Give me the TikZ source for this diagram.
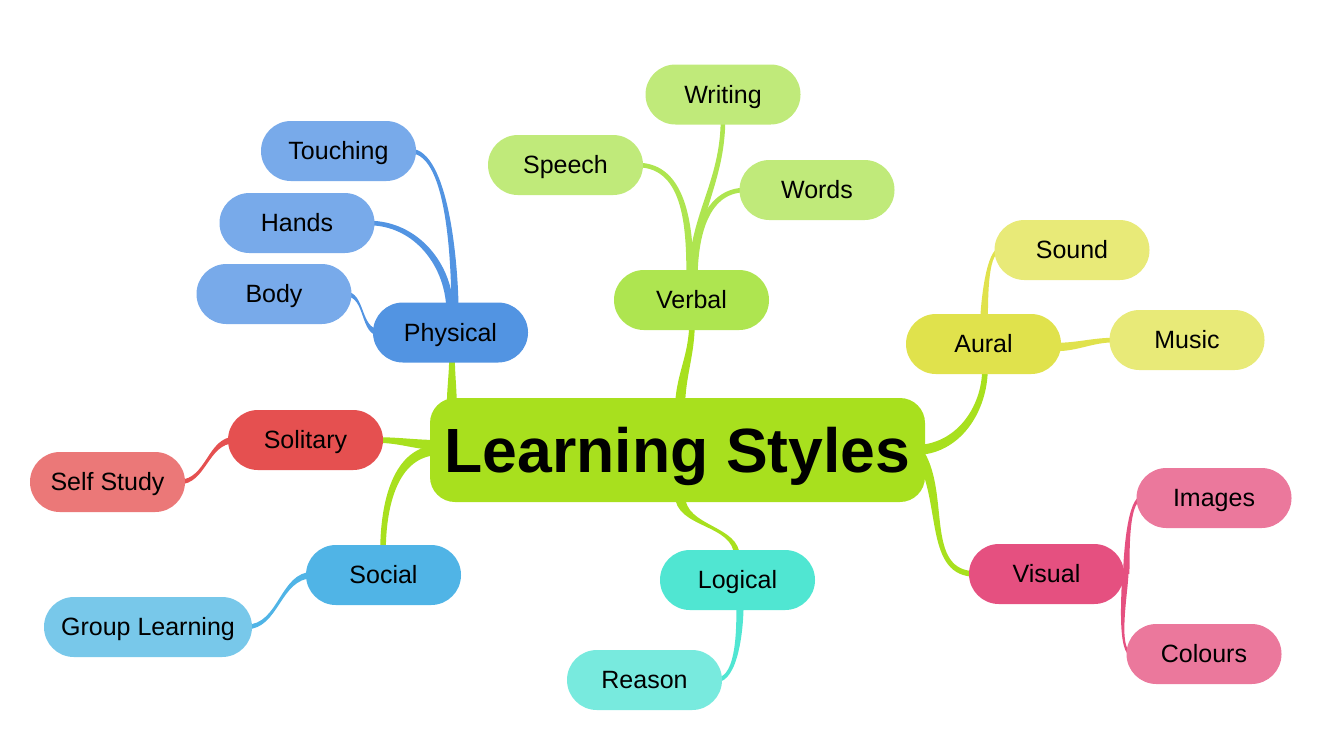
\documentclass[tikz,border=0pt]{standalone}
\usepackage{fontspec}
\setmainfont{Liberation Sans}
\usetikzlibrary{calc}
\pgfdeclarelayer{bg}
\pgfsetlayers{bg,main}
\definecolor{ccentral}{HTML}{A8E01E}
\definecolor{cphys}{HTML}{5294E2}
\definecolor{cphysc}{HTML}{78AAEA}
\definecolor{cverb}{HTML}{AEE550}
\definecolor{cverbc}{HTML}{C0EA7A}
\definecolor{caur}{HTML}{E0E24C}
\definecolor{caurc}{HTML}{E8EA78}
\definecolor{cvis}{HTML}{E55080}
\definecolor{cvisc}{HTML}{EB789C}
\definecolor{clog}{HTML}{50E6D2}
\definecolor{clogc}{HTML}{78EADE}
\definecolor{csol}{HTML}{E55050}
\definecolor{csolc}{HTML}{EB7878}
\definecolor{csoc}{HTML}{50B4E6}
\definecolor{csocc}{HTML}{78C8EA}
% tapered connector: #1 start, #2 out angle, #3 end, #4 in angle, #5 start half width, #6 end half width, #7 colour, #8 extra to-options
\newcommand\conn[8]{%
  \fill[#7] ($(#1)+(#2+90:#5)$) to[out=#2,in=#4,#8] ($(#3)+(#4-90:#6)$) -- ($(#3)+(#4+90:#6)$) to[out=#4,in=#2,#8] ($(#1)+(#2-90:#5)$) -- cycle;}
\tikzset{
  pill/.style={rectangle, rounded corners=29.9pt, minimum width=155pt, minimum height=60pt,
    inner sep=0pt, text height=17.8pt, text depth=0pt, text=black,
    font=\fontsize{25}{28}\selectfont},
  hub/.style={rectangle, rounded corners=25pt, minimum width=495pt, minimum height=104pt,
    inner sep=0pt, text height=45pt, text depth=0pt, text=black,
    font=\fontsize{62.5}{70}\selectfont\bfseries, fill=ccentral},
}
\begin{document}
\begin{tikzpicture}[x=1pt,y=1pt]
\useasboundingbox (0,0) rectangle (1340,-748);
% nodes
\node[hub] (central) at (677.5,-450) {Learning Styles};
\node[pill, fill=cphys] (phys) at (450.5,-332.5) {Physical};
\node[pill, fill=cphysc] (touch) at (338.5,-151) {Touching};
\node[pill, fill=cphysc] (hands) at (297,-223) {Hands};
\node[pill, fill=cphysc] (body) at (274,-294) {Body};
\node[pill, fill=cverb] (verbal) at (691.5,-300) {Verbal};
\node[pill, fill=cverbc] (speech) at (565.5,-165) {Speech};
\node[pill, fill=cverbc] (writing) at (723,-94.5) {Writing};
\node[pill, fill=cverbc] (words) at (817,-190) {Words};
\node[pill, fill=caur] (aural) at (983.5,-344) {Aural};
\node[pill, fill=caurc] (sound) at (1072,-250) {Sound};
\node[pill, fill=caurc] (music) at (1187,-340) {Music};
\node[pill, fill=cvis] (visual) at (1046.5,-574) {Visual};
\node[pill, fill=cvisc] (images) at (1214,-498) {Images};
\node[pill, fill=cvisc] (colours) at (1204,-654) {Colours};
\node[pill, fill=clog] (logical) at (737.5,-580) {Logical};
\node[pill, fill=clogc] (reason) at (644.5,-680) {Reason};
\node[pill, fill=csol] (solitary) at (305.5,-440) {Solitary};
\node[pill, fill=csolc] (selfst) at (107.5,-482) {Self Study};
\node[pill, fill=csoc] (social) at (383.5,-575) {Social};
\node[pill, fill=csocc, minimum width=208pt] (group) at (148,-627) {Group Learning};
% connectors
\begin{pgfonlayer}{bg}
\coordinate (c1s) at ($(central.north west)+(22,-10)$);
\coordinate (c1e) at ($(phys.south)+(1.5,8)$);
\coordinate (c2s) at ($(central.north)+(2.5,-12)$);
\coordinate (c2e) at ($(verbal.south)+(0.5,8)$);
\coordinate (c3s) at ($(central.east)+(-10,0)$);
\coordinate (c3e) at ($(aural.south)+(1.5,6)$);
\coordinate (c4s) at ($(central.east)+(-5,-5)$);
\coordinate (c4e) at ($(visual.west)+(7,0)$);
\coordinate (c5s) at ($(central.west)+(10,5)$);
\coordinate (c5e) at ($(solitary.east)+(-7,0)$);
\coordinate (c6s) at ($(central.west)+(10,0)$);
\coordinate (c6e) at ($(social.north)+(-0.5,-7)$);
\coordinate (c7s) at ($(central.south)+(2.5,7)$);
\coordinate (c7e) at ($(logical.north)+(-0.5,-7)$);
\conn{c1s}{90}{c1e}{-90}{5}{2.8}{ccentral}{}
\conn{c2s}{90}{c2e}{-90}{5}{2.8}{ccentral}{}
\conn{c3s}{0}{c3e}{-90}{5}{2.8}{ccentral}{}
\conn{c4s}{-60}{c4e}{180}{5}{2.8}{ccentral}{}
\conn{c5s}{180}{c5e}{0}{5}{2.8}{ccentral}{}
\conn{c6s}{180}{c6e}{90}{5}{2.8}{ccentral}{}
\conn{c7s}{-90}{c7e}{90}{5}{2.8}{ccentral}{}
% physical
\coordinate (p1s) at ($(phys.north)+(4.5,-10)$);
\coordinate (p1e) at ($(touch.east)+(-6,0)$);
\coordinate (p2s) at ($(phys.north)+(-0.5,-10)$);
\coordinate (p2e) at ($(hands.east)+(-6,0)$);
\coordinate (p3s) at ($(phys.west)+(7,0)$);
\coordinate (p3e) at ($(body.east)+(-6,0)$);
\conn{p1s}{90}{p1e}{0}{3.6}{2.3}{cphys}{looseness=0.6}
\conn{p2s}{90}{p2e}{0}{3.6}{2.3}{cphys}{}
\conn{p3s}{180}{p3e}{0}{3.2}{2.3}{cphys}{}
% verbal
\coordinate (v1s) at ($(verbal.north)+(-1.5,-10)$);
\coordinate (v1e) at ($(speech.east)+(-6,0)$);
\coordinate (v2s) at ($(verbal.north)+(0.5,-10)$);
\coordinate (v2e) at ($(writing.south)+(0,6)$);
\coordinate (v3s) at ($(verbal.north)+(2.5,-10)$);
\coordinate (v3e) at ($(words.west)+(6,0)$);
\conn{v1s}{90}{v1e}{0}{3.6}{2.3}{cverb}{}
\conn{v2s}{90}{v2e}{-90}{3.6}{2.3}{cverb}{}
\conn{v3s}{90}{v3e}{180}{3.6}{2.3}{cverb}{}
% aural
\coordinate (a1s) at ($(aural.north)+(0.5,-6)$);
\coordinate (a1e) at ($(sound.west)+(6,0)$);
\coordinate (a2s) at ($(aural.east)+(-6,-3)$);
\coordinate (a2e) at ($(music.west)+(6,0)$);
\conn{a1s}{88}{a1e}{180}{3.8}{2.4}{caur}{looseness=0.5}
\conn{a2s}{0}{a2e}{180}{4.2}{2.3}{caur}{}
% visual
\coordinate (vi1s) at ($(visual.east)+(2,0)$);
\coordinate (vi1e) at ($(images.west)+(6,0)$);
\coordinate (vi2s) at ($(visual.east)+(1,0)$);
\coordinate (vi2e) at ($(colours.west)+(6,0)$);
\conn{vi1s}{88}{vi1e}{180}{3.2}{2.3}{cvis}{looseness=0.5}
\conn{vi2s}{-90}{vi2e}{180}{3.2}{2.3}{cvis}{looseness=0.5}
% logical
\coordinate (l1s) at ($(logical.south)+(2.5,6)$);
\coordinate (l1e) at ($(reason.east)+(-6,0)$);
\conn{l1s}{-90}{l1e}{0}{3.6}{2.3}{clog}{looseness=0.7}
% solitary
\coordinate (s1s) at ($(solitary.west)+(7,0)$);
\coordinate (s1e) at ($(selfst.east)+(-6,0)$);
\conn{s1s}{180}{s1e}{0}{3.2}{2.3}{csol}{}
% social
\coordinate (so1s) at ($(social.west)+(7,0)$);
\coordinate (so1e) at ($(group.east)+(-6,0)$);
\conn{so1s}{180}{so1e}{0}{3.2}{2.3}{csoc}{}
\end{pgfonlayer}
\end{tikzpicture}
\end{document}
